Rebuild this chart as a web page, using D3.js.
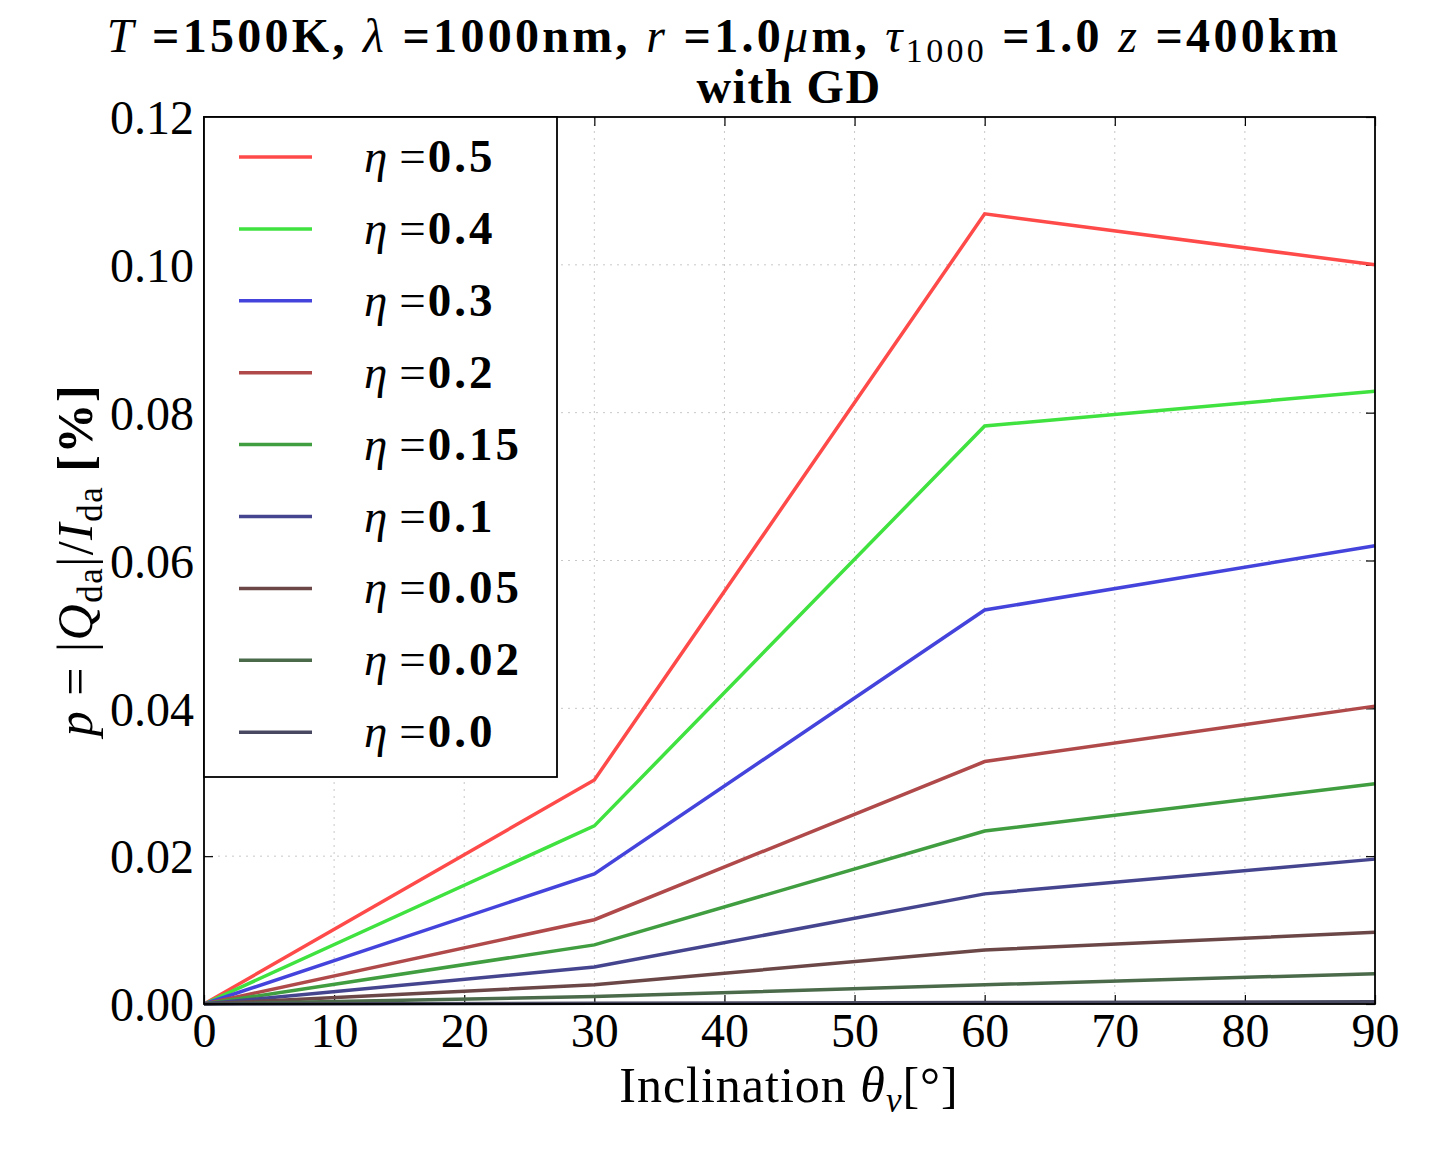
<!DOCTYPE html>
<html>
<head>
<meta charset="utf-8">
<script src="https://cdn.jsdelivr.net/npm/d3@7"></script>
<style>
  body { margin: 0; background: #fff; }
  text { font-family: "Liberation Serif", "DejaVu Serif", serif; fill: #000; }
  .grid line { stroke: #c8c8c8; stroke-dasharray: 2,5; stroke-width: 1; }
  .axis path { display: none; }
  .axis line { stroke: #000; stroke-width: 1.2; }
</style>
</head>
<body>
<svg id="chart"></svg>
<script>
// inclination angles (degrees)
const inclinations = [0, 30, 60, 90];
const etaLabels = ['0.5', '0.4', '0.3', '0.2', '0.15', '0.1', '0.05', '0.02', '0.0'];
const lineColors = ['#ff4a4a', '#3fe23f', '#4444dd', '#b04a4a', '#409d40', '#45458f', '#6b4747', '#4a6a4a', '#484860'];

// polarization degree [%] for each eta
const pEta050 = [0, 0.0303, 0.1069, 0.1000];
const pEta040 = [0, 0.0241, 0.0782, 0.0829];
const pEta030 = [0, 0.0176, 0.0533, 0.0620];
const pEta020 = [0, 0.0114, 0.0328, 0.0403];
const pEta015 = [0, 0.0080, 0.0234, 0.0298];
const pEta010 = [0, 0.0050, 0.0149, 0.0196];
const pEta005 = [0, 0.0026, 0.0073, 0.0097];
const pEta002 = [0, 0.0010, 0.0026, 0.0041];
const pEta000 = [0, 0.0001, 0.0002, 0.0003];

const allSeries = [pEta050, pEta040, pEta030, pEta020, pEta015, pEta010, pEta005, pEta002, pEta000];

const xTicks = [0, 10, 20, 30, 40, 50, 60, 70, 80, 90];
const yTicks = [0, 0.02, 0.04, 0.06, 0.08, 0.10, 0.12];

const margin = { top: 117, left: 204, right: 76, bottom: 170 };
const W = 1451, H = 1174;
const width = W - margin.left - margin.right;
const height = H - margin.top - margin.bottom;

const svg = d3.select('#chart').attr('width', W).attr('height', H);
const chart = svg.append('g').attr('transform', `translate(${margin.left},${margin.top})`);

const x = d3.scaleLinear().domain([0, 90]).range([0, width]);
const y = d3.scaleLinear().domain([0, 0.12]).range([height, 0]);

// grid
chart.append('g').attr('class', 'grid')
    .selectAll('line.gx').data(xTicks.slice(1, -1)).join('line')
    .attr('x1', d => x(d)).attr('x2', d => x(d)).attr('y1', 0).attr('y2', height);
chart.append('g').attr('class', 'grid')
    .selectAll('line.gy').data(yTicks.slice(1, -1)).join('line')
    .attr('y1', d => y(d)).attr('y2', d => y(d)).attr('x1', 0).attr('x2', width);

// ticks inward on all four sides
const tl = 9;
const xAxis = chart.append('g').attr('class', 'axis').attr('transform', `translate(0,${height})`)
    .call(d3.axisBottom(x).tickValues(xTicks).tickSize(-tl).tickPadding(8).tickFormat(d3.format('d')));
chart.append('g').attr('class', 'axis')
    .call(d3.axisTop(x).tickValues(xTicks).tickSize(-tl).tickFormat(''));
const yAxis = chart.append('g').attr('class', 'axis')
    .call(d3.axisLeft(y).tickValues(yTicks).tickSize(-tl).tickPadding(10).tickFormat(d3.format('.2f')));
chart.append('g').attr('class', 'axis').attr('transform', `translate(${width},0)`)
    .call(d3.axisRight(y).tickValues(yTicks).tickSize(-tl).tickFormat(''));

xAxis.selectAll('text').style('font-size', '48px').attr('dy', '0.72em');
yAxis.selectAll('text').style('font-size', '48px').attr('dy', '0.35em');

// lines
const line = d3.line().x((d, i) => x(inclinations[i])).y(d => y(d));
chart.selectAll('path.series').data(allSeries).join('path')
    .attr('class', 'series')
    .attr('fill', 'none')
    .attr('stroke', (d, i) => lineColors[i])
    .attr('stroke-width', 3.5)
    .attr('d', line);

// frame
chart.append('rect').attr('width', width).attr('height', height)
    .attr('fill', 'none').attr('stroke', '#000').attr('stroke-width', 1.8);

// legend
const leg = chart.append('g');
leg.append('rect').attr('x', 0).attr('y', 0).attr('width', 353).attr('height', 660)
    .attr('fill', '#fff').attr('stroke', '#000').attr('stroke-width', 1.8);
const rowH = 71.9;
etaLabels.forEach((lab, i) => {
    const yy = 40 + i * rowH;
    leg.append('line').attr('x1', 35).attr('x2', 108).attr('y1', yy).attr('y2', yy)
        .attr('stroke', lineColors[i]).attr('stroke-width', 3.5);
    const t = leg.append('text').attr('x', 160).attr('y', yy + 15).style('font-size', '47px');
    t.append('tspan').style('font-style', 'italic').text('η');
    t.append('tspan').attr('dx', 12).style('letter-spacing', '2px').text('=');
    t.append('tspan').style('font-weight', 'bold').style('letter-spacing', '3px').text(lab);
});

// title
const title = svg.append('text').attr('x', 724).attr('y', 52).attr('text-anchor', 'middle')
    .style('font-size', '48px').style('letter-spacing', '3.3px');
const parts = [
    ['T', 'italic'], [' =1500K, ', 'bold'], ['λ', 'italic'], [' =1000nm, ', 'bold'],
    ['r', 'italic'], [' =1.0', 'bold'], ['μ', 'italic'], ['m, ', 'bold'],
    ['τ', 'italic'], ['1000', 'sub'], [' =1.0 ', 'bold'], ['z', 'italic'], [' =400km', 'bold']
];
parts.forEach(([s, st]) => {
    const ts = title.append('tspan').text(s);
    if (st === 'italic') ts.style('font-style', 'italic');
    if (st === 'bold') ts.style('font-weight', 'bold');
    if (st === 'sub') ts.style('font-size', '34px').attr('dy', 10);
    if (s === ' =1.0 ' ) ts.attr('dy', -10);
});
svg.append('text').attr('x', 789).attr('y', 103).attr('text-anchor', 'middle')
    .style('font-size', '48px').style('font-weight', 'bold').style('letter-spacing', '1.5px').text('with GD');

// x label
const xl = svg.append('text').attr('x', 789).attr('y', 1102).attr('text-anchor', 'middle')
    .style('font-size', '50px').style('letter-spacing', '1px');
xl.append('tspan').text('Inclination ');
xl.append('tspan').style('font-style', 'italic').text('θ');
xl.append('tspan').style('font-style', 'italic').style('font-size', '35px').attr('dy', 10).text('v');
xl.append('tspan').attr('dy', -10).text('[°]');

// y label
const yl = svg.append('text').attr('transform', 'translate(92,560) rotate(-90)').attr('text-anchor', 'middle')
    .style('font-size', '50px').style('letter-spacing', '1.5px');
yl.append('tspan').style('font-style', 'italic').text('p');
yl.append('tspan').text(' = |');
yl.append('tspan').style('font-style', 'italic').text('Q');
yl.append('tspan').style('font-size', '35px').attr('dy', 10).text('da');
yl.append('tspan').attr('dy', -10).text('|/');
yl.append('tspan').style('font-style', 'italic').text('I');
yl.append('tspan').style('font-size', '35px').attr('dy', 10).text('da');
yl.append('tspan').attr('dy', -10).style('font-weight', 'bold').text(' [%]');
</script>
</body>
</html>
